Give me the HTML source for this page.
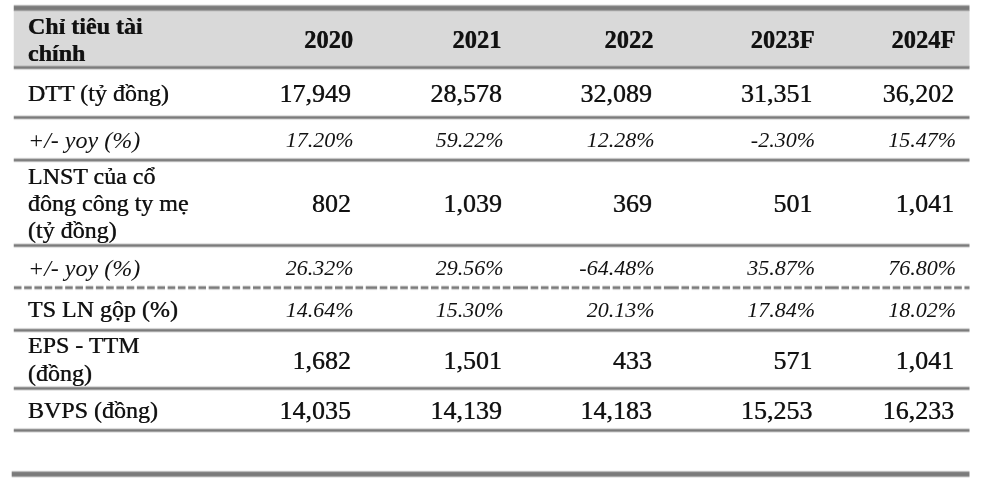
<!DOCTYPE html>
<html><head><meta charset="utf-8"><title>Chỉ tiêu tài chính</title>
<style>
html,body{margin:0;padding:0;background:#fff;}
body{width:1000px;height:481px;position:relative;overflow:hidden;font-family:"Liberation Serif", "Times New Roman", serif;color:#111;}
#w{position:absolute;left:0;top:0;width:1000px;height:481px;will-change:transform;}
#w>div,#w>span,#w>svg{position:absolute;}
svg{display:block;}
span{white-space:nowrap;text-shadow:0.4px 0 0 rgba(17,17,17,.3), -0.4px 0 0 rgba(17,17,17,.3), 0 0.4px 0 rgba(17,17,17,.3), 0 -0.4px 0 rgba(17,17,17,.3);}
span.i{text-shadow:none;}
</style></head><body><div id="w">
<svg style="left:0;top:0;" width="1000" height="481" viewBox="0 0 1000 481"><rect x="13.75" y="10" width="955.75" height="57" fill="#d9d9d9"/><rect x="13.75" y="4" width="955.75" height="1" fill="#7a7a7a" fill-opacity="0.103"/><rect x="13.75" y="5" width="955.75" height="1" fill="#7a7a7a" fill-opacity="0.556"/><rect x="13.75" y="6" width="955.75" height="1" fill="#7a7a7a" fill-opacity="0.939"/><rect x="13.75" y="7" width="955.75" height="1" fill="#7a7a7a" fill-opacity="0.999"/><rect x="13.75" y="8" width="955.75" height="1" fill="#7a7a7a" fill-opacity="0.999"/><rect x="13.75" y="9" width="955.75" height="1" fill="#7a7a7a" fill-opacity="0.954"/><rect x="13.75" y="10" width="955.75" height="1" fill="#7a7a7a" fill-opacity="0.610"/><rect x="13.75" y="11" width="955.75" height="1" fill="#7a7a7a" fill-opacity="0.131"/><rect x="13.75" y="65" width="955.75" height="1" fill="#767676" fill-opacity="0.181"/><rect x="13.75" y="66" width="955.75" height="1" fill="#767676" fill-opacity="0.688"/><rect x="13.75" y="67" width="955.75" height="1" fill="#767676" fill-opacity="0.957"/><rect x="13.75" y="68" width="955.75" height="1" fill="#767676" fill-opacity="0.779"/><rect x="13.75" y="69" width="955.75" height="1" fill="#767676" fill-opacity="0.264"/><rect x="13.75" y="70" width="955.75" height="1" fill="#767676" fill-opacity="0.020"/><rect x="13.75" y="114" width="955.75" height="1" fill="#767676" fill-opacity="0.014"/><rect x="13.75" y="115" width="955.75" height="1" fill="#767676" fill-opacity="0.220"/><rect x="13.75" y="116" width="955.75" height="1" fill="#767676" fill-opacity="0.736"/><rect x="13.75" y="117" width="955.75" height="1" fill="#767676" fill-opacity="0.959"/><rect x="13.75" y="118" width="955.75" height="1" fill="#767676" fill-opacity="0.736"/><rect x="13.75" y="119" width="955.75" height="1" fill="#767676" fill-opacity="0.220"/><rect x="13.75" y="120" width="955.75" height="1" fill="#767676" fill-opacity="0.014"/><rect x="13.75" y="157" width="955.75" height="1" fill="#767676" fill-opacity="0.053"/><rect x="13.75" y="158" width="955.75" height="1" fill="#767676" fill-opacity="0.417"/><rect x="13.75" y="159" width="955.75" height="1" fill="#767676" fill-opacity="0.882"/><rect x="13.75" y="160" width="955.75" height="1" fill="#767676" fill-opacity="0.926"/><rect x="13.75" y="161" width="955.75" height="1" fill="#767676" fill-opacity="0.528"/><rect x="13.75" y="162" width="955.75" height="1" fill="#767676" fill-opacity="0.091"/><rect x="13.75" y="242" width="955.75" height="1" fill="#767676" fill-opacity="0.014"/><rect x="13.75" y="243" width="955.75" height="1" fill="#767676" fill-opacity="0.220"/><rect x="13.75" y="244" width="955.75" height="1" fill="#767676" fill-opacity="0.736"/><rect x="13.75" y="245" width="955.75" height="1" fill="#767676" fill-opacity="0.959"/><rect x="13.75" y="246" width="955.75" height="1" fill="#767676" fill-opacity="0.736"/><rect x="13.75" y="247" width="955.75" height="1" fill="#767676" fill-opacity="0.220"/><rect x="13.75" y="248" width="955.75" height="1" fill="#767676" fill-opacity="0.014"/><rect x="13.75" y="327" width="955.75" height="1" fill="#767676" fill-opacity="0.029"/><rect x="13.75" y="328" width="955.75" height="1" fill="#767676" fill-opacity="0.312"/><rect x="13.75" y="329" width="955.75" height="1" fill="#767676" fill-opacity="0.818"/><rect x="13.75" y="330" width="955.75" height="1" fill="#767676" fill-opacity="0.951"/><rect x="13.75" y="331" width="955.75" height="1" fill="#767676" fill-opacity="0.637"/><rect x="13.75" y="332" width="955.75" height="1" fill="#767676" fill-opacity="0.146"/><rect x="13.75" y="385" width="955.75" height="1" fill="#767676" fill-opacity="0.020"/><rect x="13.75" y="386" width="955.75" height="1" fill="#767676" fill-opacity="0.264"/><rect x="13.75" y="387" width="955.75" height="1" fill="#767676" fill-opacity="0.779"/><rect x="13.75" y="388" width="955.75" height="1" fill="#767676" fill-opacity="0.957"/><rect x="13.75" y="389" width="955.75" height="1" fill="#767676" fill-opacity="0.688"/><rect x="13.75" y="390" width="955.75" height="1" fill="#767676" fill-opacity="0.181"/><rect x="13.75" y="427" width="955.75" height="1" fill="#767676" fill-opacity="0.020"/><rect x="13.75" y="428" width="955.75" height="1" fill="#767676" fill-opacity="0.264"/><rect x="13.75" y="429" width="955.75" height="1" fill="#767676" fill-opacity="0.779"/><rect x="13.75" y="430" width="955.75" height="1" fill="#767676" fill-opacity="0.957"/><rect x="13.75" y="431" width="955.75" height="1" fill="#767676" fill-opacity="0.688"/><rect x="13.75" y="432" width="955.75" height="1" fill="#767676" fill-opacity="0.181"/><path d="M13.90 285h7.60v1h-7.60zM24.15 285h7.60v1h-7.60zM34.40 285h7.60v1h-7.60zM44.65 285h7.60v1h-7.60zM54.90 285h7.60v1h-7.60zM65.15 285h7.60v1h-7.60zM75.40 285h7.60v1h-7.60zM85.65 285h7.60v1h-7.60zM95.90 285h7.60v1h-7.60zM106.15 285h7.60v1h-7.60zM116.40 285h7.60v1h-7.60zM126.65 285h7.60v1h-7.60zM136.90 285h7.60v1h-7.60zM147.15 285h7.60v1h-7.60zM157.40 285h7.60v1h-7.60zM167.65 285h7.60v1h-7.60zM177.90 285h7.60v1h-7.60zM188.15 285h7.60v1h-7.60zM198.40 285h7.60v1h-7.60zM208.65 285h3.35v1h-3.35zM212.00 285h7.60v1h-7.60zM222.25 285h7.60v1h-7.60zM232.50 285h7.60v1h-7.60zM242.75 285h7.60v1h-7.60zM253.00 285h7.60v1h-7.60zM263.25 285h7.60v1h-7.60zM273.50 285h7.60v1h-7.60zM283.75 285h7.60v1h-7.60zM294.00 285h7.60v1h-7.60zM304.25 285h7.60v1h-7.60zM314.50 285h7.60v1h-7.60zM324.75 285h7.60v1h-7.60zM335.00 285h7.60v1h-7.60zM345.25 285h7.60v1h-7.60zM355.50 285h7.60v1h-7.60zM365.75 285h3.75v1h-3.75zM369.50 285h7.60v1h-7.60zM379.75 285h7.60v1h-7.60zM390.00 285h7.60v1h-7.60zM400.25 285h7.60v1h-7.60zM410.50 285h7.60v1h-7.60zM420.75 285h7.60v1h-7.60zM431.00 285h7.60v1h-7.60zM441.25 285h7.60v1h-7.60zM451.50 285h7.60v1h-7.60zM461.75 285h7.60v1h-7.60zM472.00 285h7.60v1h-7.60zM482.25 285h7.60v1h-7.60zM492.50 285h7.60v1h-7.60zM502.75 285h7.60v1h-7.60zM513.00 285h7.40v1h-7.40zM520.40 285h7.60v1h-7.60zM530.65 285h7.60v1h-7.60zM540.90 285h7.60v1h-7.60zM551.15 285h7.60v1h-7.60zM561.40 285h7.60v1h-7.60zM571.65 285h7.60v1h-7.60zM581.90 285h7.60v1h-7.60zM592.15 285h7.60v1h-7.60zM602.40 285h7.60v1h-7.60zM612.65 285h7.60v1h-7.60zM622.90 285h7.60v1h-7.60zM633.15 285h7.60v1h-7.60zM643.40 285h7.60v1h-7.60zM653.65 285h7.60v1h-7.60zM663.90 285h7.30v1h-7.30zM671.20 285h7.60v1h-7.60zM681.45 285h7.60v1h-7.60zM691.70 285h7.60v1h-7.60zM701.95 285h7.60v1h-7.60zM712.20 285h7.60v1h-7.60zM722.45 285h7.60v1h-7.60zM732.70 285h7.60v1h-7.60zM742.95 285h7.60v1h-7.60zM753.20 285h7.60v1h-7.60zM763.45 285h7.60v1h-7.60zM773.70 285h7.60v1h-7.60zM783.95 285h7.60v1h-7.60zM794.20 285h7.60v1h-7.60zM804.45 285h7.60v1h-7.60zM814.70 285h7.60v1h-7.60zM824.95 285h6.25v1h-6.25zM831.20 285h7.60v1h-7.60zM841.45 285h7.60v1h-7.60zM851.70 285h7.60v1h-7.60zM861.95 285h7.60v1h-7.60zM872.20 285h7.60v1h-7.60zM882.45 285h7.60v1h-7.60zM892.70 285h7.60v1h-7.60zM902.95 285h7.60v1h-7.60zM913.20 285h7.60v1h-7.60zM923.45 285h7.60v1h-7.60zM933.70 285h7.60v1h-7.60zM943.95 285h7.60v1h-7.60zM954.20 285h7.60v1h-7.60zM964.45 285h5.05v1h-5.05z" fill="#767676" fill-opacity="0.146"/><path d="M13.90 286h7.60v1h-7.60zM24.15 286h7.60v1h-7.60zM34.40 286h7.60v1h-7.60zM44.65 286h7.60v1h-7.60zM54.90 286h7.60v1h-7.60zM65.15 286h7.60v1h-7.60zM75.40 286h7.60v1h-7.60zM85.65 286h7.60v1h-7.60zM95.90 286h7.60v1h-7.60zM106.15 286h7.60v1h-7.60zM116.40 286h7.60v1h-7.60zM126.65 286h7.60v1h-7.60zM136.90 286h7.60v1h-7.60zM147.15 286h7.60v1h-7.60zM157.40 286h7.60v1h-7.60zM167.65 286h7.60v1h-7.60zM177.90 286h7.60v1h-7.60zM188.15 286h7.60v1h-7.60zM198.40 286h7.60v1h-7.60zM208.65 286h3.35v1h-3.35zM212.00 286h7.60v1h-7.60zM222.25 286h7.60v1h-7.60zM232.50 286h7.60v1h-7.60zM242.75 286h7.60v1h-7.60zM253.00 286h7.60v1h-7.60zM263.25 286h7.60v1h-7.60zM273.50 286h7.60v1h-7.60zM283.75 286h7.60v1h-7.60zM294.00 286h7.60v1h-7.60zM304.25 286h7.60v1h-7.60zM314.50 286h7.60v1h-7.60zM324.75 286h7.60v1h-7.60zM335.00 286h7.60v1h-7.60zM345.25 286h7.60v1h-7.60zM355.50 286h7.60v1h-7.60zM365.75 286h3.75v1h-3.75zM369.50 286h7.60v1h-7.60zM379.75 286h7.60v1h-7.60zM390.00 286h7.60v1h-7.60zM400.25 286h7.60v1h-7.60zM410.50 286h7.60v1h-7.60zM420.75 286h7.60v1h-7.60zM431.00 286h7.60v1h-7.60zM441.25 286h7.60v1h-7.60zM451.50 286h7.60v1h-7.60zM461.75 286h7.60v1h-7.60zM472.00 286h7.60v1h-7.60zM482.25 286h7.60v1h-7.60zM492.50 286h7.60v1h-7.60zM502.75 286h7.60v1h-7.60zM513.00 286h7.40v1h-7.40zM520.40 286h7.60v1h-7.60zM530.65 286h7.60v1h-7.60zM540.90 286h7.60v1h-7.60zM551.15 286h7.60v1h-7.60zM561.40 286h7.60v1h-7.60zM571.65 286h7.60v1h-7.60zM581.90 286h7.60v1h-7.60zM592.15 286h7.60v1h-7.60zM602.40 286h7.60v1h-7.60zM612.65 286h7.60v1h-7.60zM622.90 286h7.60v1h-7.60zM633.15 286h7.60v1h-7.60zM643.40 286h7.60v1h-7.60zM653.65 286h7.60v1h-7.60zM663.90 286h7.30v1h-7.30zM671.20 286h7.60v1h-7.60zM681.45 286h7.60v1h-7.60zM691.70 286h7.60v1h-7.60zM701.95 286h7.60v1h-7.60zM712.20 286h7.60v1h-7.60zM722.45 286h7.60v1h-7.60zM732.70 286h7.60v1h-7.60zM742.95 286h7.60v1h-7.60zM753.20 286h7.60v1h-7.60zM763.45 286h7.60v1h-7.60zM773.70 286h7.60v1h-7.60zM783.95 286h7.60v1h-7.60zM794.20 286h7.60v1h-7.60zM804.45 286h7.60v1h-7.60zM814.70 286h7.60v1h-7.60zM824.95 286h6.25v1h-6.25zM831.20 286h7.60v1h-7.60zM841.45 286h7.60v1h-7.60zM851.70 286h7.60v1h-7.60zM861.95 286h7.60v1h-7.60zM872.20 286h7.60v1h-7.60zM882.45 286h7.60v1h-7.60zM892.70 286h7.60v1h-7.60zM902.95 286h7.60v1h-7.60zM913.20 286h7.60v1h-7.60zM923.45 286h7.60v1h-7.60zM933.70 286h7.60v1h-7.60zM943.95 286h7.60v1h-7.60zM954.20 286h7.60v1h-7.60zM964.45 286h5.05v1h-5.05z" fill="#767676" fill-opacity="0.637"/><path d="M13.90 287h7.60v1h-7.60zM24.15 287h7.60v1h-7.60zM34.40 287h7.60v1h-7.60zM44.65 287h7.60v1h-7.60zM54.90 287h7.60v1h-7.60zM65.15 287h7.60v1h-7.60zM75.40 287h7.60v1h-7.60zM85.65 287h7.60v1h-7.60zM95.90 287h7.60v1h-7.60zM106.15 287h7.60v1h-7.60zM116.40 287h7.60v1h-7.60zM126.65 287h7.60v1h-7.60zM136.90 287h7.60v1h-7.60zM147.15 287h7.60v1h-7.60zM157.40 287h7.60v1h-7.60zM167.65 287h7.60v1h-7.60zM177.90 287h7.60v1h-7.60zM188.15 287h7.60v1h-7.60zM198.40 287h7.60v1h-7.60zM208.65 287h3.35v1h-3.35zM212.00 287h7.60v1h-7.60zM222.25 287h7.60v1h-7.60zM232.50 287h7.60v1h-7.60zM242.75 287h7.60v1h-7.60zM253.00 287h7.60v1h-7.60zM263.25 287h7.60v1h-7.60zM273.50 287h7.60v1h-7.60zM283.75 287h7.60v1h-7.60zM294.00 287h7.60v1h-7.60zM304.25 287h7.60v1h-7.60zM314.50 287h7.60v1h-7.60zM324.75 287h7.60v1h-7.60zM335.00 287h7.60v1h-7.60zM345.25 287h7.60v1h-7.60zM355.50 287h7.60v1h-7.60zM365.75 287h3.75v1h-3.75zM369.50 287h7.60v1h-7.60zM379.75 287h7.60v1h-7.60zM390.00 287h7.60v1h-7.60zM400.25 287h7.60v1h-7.60zM410.50 287h7.60v1h-7.60zM420.75 287h7.60v1h-7.60zM431.00 287h7.60v1h-7.60zM441.25 287h7.60v1h-7.60zM451.50 287h7.60v1h-7.60zM461.75 287h7.60v1h-7.60zM472.00 287h7.60v1h-7.60zM482.25 287h7.60v1h-7.60zM492.50 287h7.60v1h-7.60zM502.75 287h7.60v1h-7.60zM513.00 287h7.40v1h-7.40zM520.40 287h7.60v1h-7.60zM530.65 287h7.60v1h-7.60zM540.90 287h7.60v1h-7.60zM551.15 287h7.60v1h-7.60zM561.40 287h7.60v1h-7.60zM571.65 287h7.60v1h-7.60zM581.90 287h7.60v1h-7.60zM592.15 287h7.60v1h-7.60zM602.40 287h7.60v1h-7.60zM612.65 287h7.60v1h-7.60zM622.90 287h7.60v1h-7.60zM633.15 287h7.60v1h-7.60zM643.40 287h7.60v1h-7.60zM653.65 287h7.60v1h-7.60zM663.90 287h7.30v1h-7.30zM671.20 287h7.60v1h-7.60zM681.45 287h7.60v1h-7.60zM691.70 287h7.60v1h-7.60zM701.95 287h7.60v1h-7.60zM712.20 287h7.60v1h-7.60zM722.45 287h7.60v1h-7.60zM732.70 287h7.60v1h-7.60zM742.95 287h7.60v1h-7.60zM753.20 287h7.60v1h-7.60zM763.45 287h7.60v1h-7.60zM773.70 287h7.60v1h-7.60zM783.95 287h7.60v1h-7.60zM794.20 287h7.60v1h-7.60zM804.45 287h7.60v1h-7.60zM814.70 287h7.60v1h-7.60zM824.95 287h6.25v1h-6.25zM831.20 287h7.60v1h-7.60zM841.45 287h7.60v1h-7.60zM851.70 287h7.60v1h-7.60zM861.95 287h7.60v1h-7.60zM872.20 287h7.60v1h-7.60zM882.45 287h7.60v1h-7.60zM892.70 287h7.60v1h-7.60zM902.95 287h7.60v1h-7.60zM913.20 287h7.60v1h-7.60zM923.45 287h7.60v1h-7.60zM933.70 287h7.60v1h-7.60zM943.95 287h7.60v1h-7.60zM954.20 287h7.60v1h-7.60zM964.45 287h5.05v1h-5.05z" fill="#767676" fill-opacity="0.951"/><path d="M13.90 288h7.60v1h-7.60zM24.15 288h7.60v1h-7.60zM34.40 288h7.60v1h-7.60zM44.65 288h7.60v1h-7.60zM54.90 288h7.60v1h-7.60zM65.15 288h7.60v1h-7.60zM75.40 288h7.60v1h-7.60zM85.65 288h7.60v1h-7.60zM95.90 288h7.60v1h-7.60zM106.15 288h7.60v1h-7.60zM116.40 288h7.60v1h-7.60zM126.65 288h7.60v1h-7.60zM136.90 288h7.60v1h-7.60zM147.15 288h7.60v1h-7.60zM157.40 288h7.60v1h-7.60zM167.65 288h7.60v1h-7.60zM177.90 288h7.60v1h-7.60zM188.15 288h7.60v1h-7.60zM198.40 288h7.60v1h-7.60zM208.65 288h3.35v1h-3.35zM212.00 288h7.60v1h-7.60zM222.25 288h7.60v1h-7.60zM232.50 288h7.60v1h-7.60zM242.75 288h7.60v1h-7.60zM253.00 288h7.60v1h-7.60zM263.25 288h7.60v1h-7.60zM273.50 288h7.60v1h-7.60zM283.75 288h7.60v1h-7.60zM294.00 288h7.60v1h-7.60zM304.25 288h7.60v1h-7.60zM314.50 288h7.60v1h-7.60zM324.75 288h7.60v1h-7.60zM335.00 288h7.60v1h-7.60zM345.25 288h7.60v1h-7.60zM355.50 288h7.60v1h-7.60zM365.75 288h3.75v1h-3.75zM369.50 288h7.60v1h-7.60zM379.75 288h7.60v1h-7.60zM390.00 288h7.60v1h-7.60zM400.25 288h7.60v1h-7.60zM410.50 288h7.60v1h-7.60zM420.75 288h7.60v1h-7.60zM431.00 288h7.60v1h-7.60zM441.25 288h7.60v1h-7.60zM451.50 288h7.60v1h-7.60zM461.75 288h7.60v1h-7.60zM472.00 288h7.60v1h-7.60zM482.25 288h7.60v1h-7.60zM492.50 288h7.60v1h-7.60zM502.75 288h7.60v1h-7.60zM513.00 288h7.40v1h-7.40zM520.40 288h7.60v1h-7.60zM530.65 288h7.60v1h-7.60zM540.90 288h7.60v1h-7.60zM551.15 288h7.60v1h-7.60zM561.40 288h7.60v1h-7.60zM571.65 288h7.60v1h-7.60zM581.90 288h7.60v1h-7.60zM592.15 288h7.60v1h-7.60zM602.40 288h7.60v1h-7.60zM612.65 288h7.60v1h-7.60zM622.90 288h7.60v1h-7.60zM633.15 288h7.60v1h-7.60zM643.40 288h7.60v1h-7.60zM653.65 288h7.60v1h-7.60zM663.90 288h7.30v1h-7.30zM671.20 288h7.60v1h-7.60zM681.45 288h7.60v1h-7.60zM691.70 288h7.60v1h-7.60zM701.95 288h7.60v1h-7.60zM712.20 288h7.60v1h-7.60zM722.45 288h7.60v1h-7.60zM732.70 288h7.60v1h-7.60zM742.95 288h7.60v1h-7.60zM753.20 288h7.60v1h-7.60zM763.45 288h7.60v1h-7.60zM773.70 288h7.60v1h-7.60zM783.95 288h7.60v1h-7.60zM794.20 288h7.60v1h-7.60zM804.45 288h7.60v1h-7.60zM814.70 288h7.60v1h-7.60zM824.95 288h6.25v1h-6.25zM831.20 288h7.60v1h-7.60zM841.45 288h7.60v1h-7.60zM851.70 288h7.60v1h-7.60zM861.95 288h7.60v1h-7.60zM872.20 288h7.60v1h-7.60zM882.45 288h7.60v1h-7.60zM892.70 288h7.60v1h-7.60zM902.95 288h7.60v1h-7.60zM913.20 288h7.60v1h-7.60zM923.45 288h7.60v1h-7.60zM933.70 288h7.60v1h-7.60zM943.95 288h7.60v1h-7.60zM954.20 288h7.60v1h-7.60zM964.45 288h5.05v1h-5.05z" fill="#767676" fill-opacity="0.818"/><path d="M13.90 289h7.60v1h-7.60zM24.15 289h7.60v1h-7.60zM34.40 289h7.60v1h-7.60zM44.65 289h7.60v1h-7.60zM54.90 289h7.60v1h-7.60zM65.15 289h7.60v1h-7.60zM75.40 289h7.60v1h-7.60zM85.65 289h7.60v1h-7.60zM95.90 289h7.60v1h-7.60zM106.15 289h7.60v1h-7.60zM116.40 289h7.60v1h-7.60zM126.65 289h7.60v1h-7.60zM136.90 289h7.60v1h-7.60zM147.15 289h7.60v1h-7.60zM157.40 289h7.60v1h-7.60zM167.65 289h7.60v1h-7.60zM177.90 289h7.60v1h-7.60zM188.15 289h7.60v1h-7.60zM198.40 289h7.60v1h-7.60zM208.65 289h3.35v1h-3.35zM212.00 289h7.60v1h-7.60zM222.25 289h7.60v1h-7.60zM232.50 289h7.60v1h-7.60zM242.75 289h7.60v1h-7.60zM253.00 289h7.60v1h-7.60zM263.25 289h7.60v1h-7.60zM273.50 289h7.60v1h-7.60zM283.75 289h7.60v1h-7.60zM294.00 289h7.60v1h-7.60zM304.25 289h7.60v1h-7.60zM314.50 289h7.60v1h-7.60zM324.75 289h7.60v1h-7.60zM335.00 289h7.60v1h-7.60zM345.25 289h7.60v1h-7.60zM355.50 289h7.60v1h-7.60zM365.75 289h3.75v1h-3.75zM369.50 289h7.60v1h-7.60zM379.75 289h7.60v1h-7.60zM390.00 289h7.60v1h-7.60zM400.25 289h7.60v1h-7.60zM410.50 289h7.60v1h-7.60zM420.75 289h7.60v1h-7.60zM431.00 289h7.60v1h-7.60zM441.25 289h7.60v1h-7.60zM451.50 289h7.60v1h-7.60zM461.75 289h7.60v1h-7.60zM472.00 289h7.60v1h-7.60zM482.25 289h7.60v1h-7.60zM492.50 289h7.60v1h-7.60zM502.75 289h7.60v1h-7.60zM513.00 289h7.40v1h-7.40zM520.40 289h7.60v1h-7.60zM530.65 289h7.60v1h-7.60zM540.90 289h7.60v1h-7.60zM551.15 289h7.60v1h-7.60zM561.40 289h7.60v1h-7.60zM571.65 289h7.60v1h-7.60zM581.90 289h7.60v1h-7.60zM592.15 289h7.60v1h-7.60zM602.40 289h7.60v1h-7.60zM612.65 289h7.60v1h-7.60zM622.90 289h7.60v1h-7.60zM633.15 289h7.60v1h-7.60zM643.40 289h7.60v1h-7.60zM653.65 289h7.60v1h-7.60zM663.90 289h7.30v1h-7.30zM671.20 289h7.60v1h-7.60zM681.45 289h7.60v1h-7.60zM691.70 289h7.60v1h-7.60zM701.95 289h7.60v1h-7.60zM712.20 289h7.60v1h-7.60zM722.45 289h7.60v1h-7.60zM732.70 289h7.60v1h-7.60zM742.95 289h7.60v1h-7.60zM753.20 289h7.60v1h-7.60zM763.45 289h7.60v1h-7.60zM773.70 289h7.60v1h-7.60zM783.95 289h7.60v1h-7.60zM794.20 289h7.60v1h-7.60zM804.45 289h7.60v1h-7.60zM814.70 289h7.60v1h-7.60zM824.95 289h6.25v1h-6.25zM831.20 289h7.60v1h-7.60zM841.45 289h7.60v1h-7.60zM851.70 289h7.60v1h-7.60zM861.95 289h7.60v1h-7.60zM872.20 289h7.60v1h-7.60zM882.45 289h7.60v1h-7.60zM892.70 289h7.60v1h-7.60zM902.95 289h7.60v1h-7.60zM913.20 289h7.60v1h-7.60zM923.45 289h7.60v1h-7.60zM933.70 289h7.60v1h-7.60zM943.95 289h7.60v1h-7.60zM954.20 289h7.60v1h-7.60zM964.45 289h5.05v1h-5.05z" fill="#767676" fill-opacity="0.312"/><path d="M13.90 290h7.60v1h-7.60zM24.15 290h7.60v1h-7.60zM34.40 290h7.60v1h-7.60zM44.65 290h7.60v1h-7.60zM54.90 290h7.60v1h-7.60zM65.15 290h7.60v1h-7.60zM75.40 290h7.60v1h-7.60zM85.65 290h7.60v1h-7.60zM95.90 290h7.60v1h-7.60zM106.15 290h7.60v1h-7.60zM116.40 290h7.60v1h-7.60zM126.65 290h7.60v1h-7.60zM136.90 290h7.60v1h-7.60zM147.15 290h7.60v1h-7.60zM157.40 290h7.60v1h-7.60zM167.65 290h7.60v1h-7.60zM177.90 290h7.60v1h-7.60zM188.15 290h7.60v1h-7.60zM198.40 290h7.60v1h-7.60zM208.65 290h3.35v1h-3.35zM212.00 290h7.60v1h-7.60zM222.25 290h7.60v1h-7.60zM232.50 290h7.60v1h-7.60zM242.75 290h7.60v1h-7.60zM253.00 290h7.60v1h-7.60zM263.25 290h7.60v1h-7.60zM273.50 290h7.60v1h-7.60zM283.75 290h7.60v1h-7.60zM294.00 290h7.60v1h-7.60zM304.25 290h7.60v1h-7.60zM314.50 290h7.60v1h-7.60zM324.75 290h7.60v1h-7.60zM335.00 290h7.60v1h-7.60zM345.25 290h7.60v1h-7.60zM355.50 290h7.60v1h-7.60zM365.75 290h3.75v1h-3.75zM369.50 290h7.60v1h-7.60zM379.75 290h7.60v1h-7.60zM390.00 290h7.60v1h-7.60zM400.25 290h7.60v1h-7.60zM410.50 290h7.60v1h-7.60zM420.75 290h7.60v1h-7.60zM431.00 290h7.60v1h-7.60zM441.25 290h7.60v1h-7.60zM451.50 290h7.60v1h-7.60zM461.75 290h7.60v1h-7.60zM472.00 290h7.60v1h-7.60zM482.25 290h7.60v1h-7.60zM492.50 290h7.60v1h-7.60zM502.75 290h7.60v1h-7.60zM513.00 290h7.40v1h-7.40zM520.40 290h7.60v1h-7.60zM530.65 290h7.60v1h-7.60zM540.90 290h7.60v1h-7.60zM551.15 290h7.60v1h-7.60zM561.40 290h7.60v1h-7.60zM571.65 290h7.60v1h-7.60zM581.90 290h7.60v1h-7.60zM592.15 290h7.60v1h-7.60zM602.40 290h7.60v1h-7.60zM612.65 290h7.60v1h-7.60zM622.90 290h7.60v1h-7.60zM633.15 290h7.60v1h-7.60zM643.40 290h7.60v1h-7.60zM653.65 290h7.60v1h-7.60zM663.90 290h7.30v1h-7.30zM671.20 290h7.60v1h-7.60zM681.45 290h7.60v1h-7.60zM691.70 290h7.60v1h-7.60zM701.95 290h7.60v1h-7.60zM712.20 290h7.60v1h-7.60zM722.45 290h7.60v1h-7.60zM732.70 290h7.60v1h-7.60zM742.95 290h7.60v1h-7.60zM753.20 290h7.60v1h-7.60zM763.45 290h7.60v1h-7.60zM773.70 290h7.60v1h-7.60zM783.95 290h7.60v1h-7.60zM794.20 290h7.60v1h-7.60zM804.45 290h7.60v1h-7.60zM814.70 290h7.60v1h-7.60zM824.95 290h6.25v1h-6.25zM831.20 290h7.60v1h-7.60zM841.45 290h7.60v1h-7.60zM851.70 290h7.60v1h-7.60zM861.95 290h7.60v1h-7.60zM872.20 290h7.60v1h-7.60zM882.45 290h7.60v1h-7.60zM892.70 290h7.60v1h-7.60zM902.95 290h7.60v1h-7.60zM913.20 290h7.60v1h-7.60zM923.45 290h7.60v1h-7.60zM933.70 290h7.60v1h-7.60zM943.95 290h7.60v1h-7.60zM954.20 290h7.60v1h-7.60zM964.45 290h5.05v1h-5.05z" fill="#767676" fill-opacity="0.029"/><rect x="11.7" y="470" width="957.80" height="1" fill="#7a7a7a" fill-opacity="0.080"/><rect x="11.7" y="471" width="957.80" height="1" fill="#7a7a7a" fill-opacity="0.500"/><rect x="11.7" y="472" width="957.80" height="1" fill="#7a7a7a" fill-opacity="0.920"/><rect x="11.7" y="473" width="957.80" height="1" fill="#7a7a7a" fill-opacity="0.998"/><rect x="11.7" y="474" width="957.80" height="1" fill="#7a7a7a" fill-opacity="0.999"/><rect x="11.7" y="475" width="957.80" height="1" fill="#7a7a7a" fill-opacity="0.967"/><rect x="11.7" y="476" width="957.80" height="1" fill="#7a7a7a" fill-opacity="0.663"/><rect x="11.7" y="477" width="957.80" height="1" fill="#7a7a7a" fill-opacity="0.163"/></svg>
<span style="top:13.40px;font-size:24px;line-height:27px;font-weight:bold;left:28px;">Chỉ tiêu tài<br>chính</span>
<span style="top:28.48px;font-size:24.5px;line-height:24.5px;font-weight:bold;right:646.80px;text-align:right;">2020</span>
<span style="top:28.48px;font-size:24.5px;line-height:24.5px;font-weight:bold;right:498.50px;text-align:right;">2021</span>
<span style="top:28.48px;font-size:24.5px;line-height:24.5px;font-weight:bold;right:346.40px;text-align:right;">2022</span>
<span style="top:28.48px;font-size:24.5px;line-height:24.5px;font-weight:bold;right:185.40px;text-align:right;">2023F</span>
<span style="top:28.48px;font-size:24.5px;line-height:24.5px;font-weight:bold;right:44.50px;text-align:right;">2024F</span>
<span style="top:79.60px;font-size:24px;line-height:27px;left:28px;">DTT (tỷ đồng)</span>
<span style="top:81.32px;font-size:26px;line-height:26px;right:648.90px;text-align:right;">17,949</span>
<span style="top:81.32px;font-size:26px;line-height:26px;right:498px;text-align:right;">28,578</span>
<span style="top:81.32px;font-size:26px;line-height:26px;right:348px;text-align:right;">32,089</span>
<span style="top:81.32px;font-size:26px;line-height:26px;right:187.50px;text-align:right;">31,351</span>
<span style="top:81.32px;font-size:26px;line-height:26px;right:45.80px;text-align:right;">36,202</span>
<span class="i" style="top:127.40px;font-size:24px;line-height:27px;font-style:italic;left:28px;">+/- yoy (%)</span>
<span class="i" style="top:128.57px;font-size:22px;line-height:22px;font-style:italic;right:646.50px;text-align:right;">17.20%</span>
<span class="i" style="top:128.57px;font-size:22px;line-height:22px;font-style:italic;right:496.50px;text-align:right;">59.22%</span>
<span class="i" style="top:128.57px;font-size:22px;line-height:22px;font-style:italic;right:345.50px;text-align:right;">12.28%</span>
<span class="i" style="top:128.57px;font-size:22px;line-height:22px;font-style:italic;right:185px;text-align:right;">-2.30%</span>
<span class="i" style="top:128.57px;font-size:22px;line-height:22px;font-style:italic;right:44px;text-align:right;">15.47%</span>
<span style="top:162.60px;font-size:24px;line-height:27px;left:28px;">LNST của cổ<br>đông công ty mẹ<br>(tỷ đồng)</span>
<span style="top:190.62px;font-size:26px;line-height:26px;right:648.90px;text-align:right;">802</span>
<span style="top:190.62px;font-size:26px;line-height:26px;right:498px;text-align:right;">1,039</span>
<span style="top:190.62px;font-size:26px;line-height:26px;right:348px;text-align:right;">369</span>
<span style="top:190.62px;font-size:26px;line-height:26px;right:187.50px;text-align:right;">501</span>
<span style="top:190.62px;font-size:26px;line-height:26px;right:45.80px;text-align:right;">1,041</span>
<span class="i" style="top:254.90px;font-size:24px;line-height:27px;font-style:italic;left:28px;">+/- yoy (%)</span>
<span class="i" style="top:256.57px;font-size:22px;line-height:22px;font-style:italic;right:646.50px;text-align:right;">26.32%</span>
<span class="i" style="top:256.57px;font-size:22px;line-height:22px;font-style:italic;right:496.50px;text-align:right;">29.56%</span>
<span class="i" style="top:256.57px;font-size:22px;line-height:22px;font-style:italic;right:345.50px;text-align:right;">-64.48%</span>
<span class="i" style="top:256.57px;font-size:22px;line-height:22px;font-style:italic;right:185px;text-align:right;">35.87%</span>
<span class="i" style="top:256.57px;font-size:22px;line-height:22px;font-style:italic;right:44px;text-align:right;">76.80%</span>
<span style="top:296.40px;font-size:24px;line-height:27px;left:28px;">TS LN gộp (%)</span>
<span class="i" style="top:298.57px;font-size:22px;line-height:22px;font-style:italic;right:646.50px;text-align:right;">14.64%</span>
<span class="i" style="top:298.57px;font-size:22px;line-height:22px;font-style:italic;right:496.50px;text-align:right;">15.30%</span>
<span class="i" style="top:298.57px;font-size:22px;line-height:22px;font-style:italic;right:345.50px;text-align:right;">20.13%</span>
<span class="i" style="top:298.57px;font-size:22px;line-height:22px;font-style:italic;right:185px;text-align:right;">17.84%</span>
<span class="i" style="top:298.57px;font-size:22px;line-height:22px;font-style:italic;right:44px;text-align:right;">18.02%</span>
<span style="top:332.10px;font-size:24px;line-height:27px;left:28px;">EPS - TTM</span>
<span style="top:347.73px;font-size:26px;line-height:26px;right:648.90px;text-align:right;">1,682</span>
<span style="top:347.73px;font-size:26px;line-height:26px;right:498px;text-align:right;">1,501</span>
<span style="top:347.73px;font-size:26px;line-height:26px;right:348px;text-align:right;">433</span>
<span style="top:347.73px;font-size:26px;line-height:26px;right:187.50px;text-align:right;">571</span>
<span style="top:347.73px;font-size:26px;line-height:26px;right:45.80px;text-align:right;">1,041</span>
<span style="top:396.90px;font-size:24px;line-height:27px;left:28px;">BVPS (đồng)</span>
<span style="top:397.83px;font-size:26px;line-height:26px;right:648.90px;text-align:right;">14,035</span>
<span style="top:397.83px;font-size:26px;line-height:26px;right:498px;text-align:right;">14,139</span>
<span style="top:397.83px;font-size:26px;line-height:26px;right:348px;text-align:right;">14,183</span>
<span style="top:397.83px;font-size:26px;line-height:26px;right:187.50px;text-align:right;">15,253</span>
<span style="top:397.83px;font-size:26px;line-height:26px;right:45.80px;text-align:right;">16,233</span>
<span style="top:360.40px;font-size:24px;line-height:27px;left:28px;">(đồng)</span>
</div></body></html>
